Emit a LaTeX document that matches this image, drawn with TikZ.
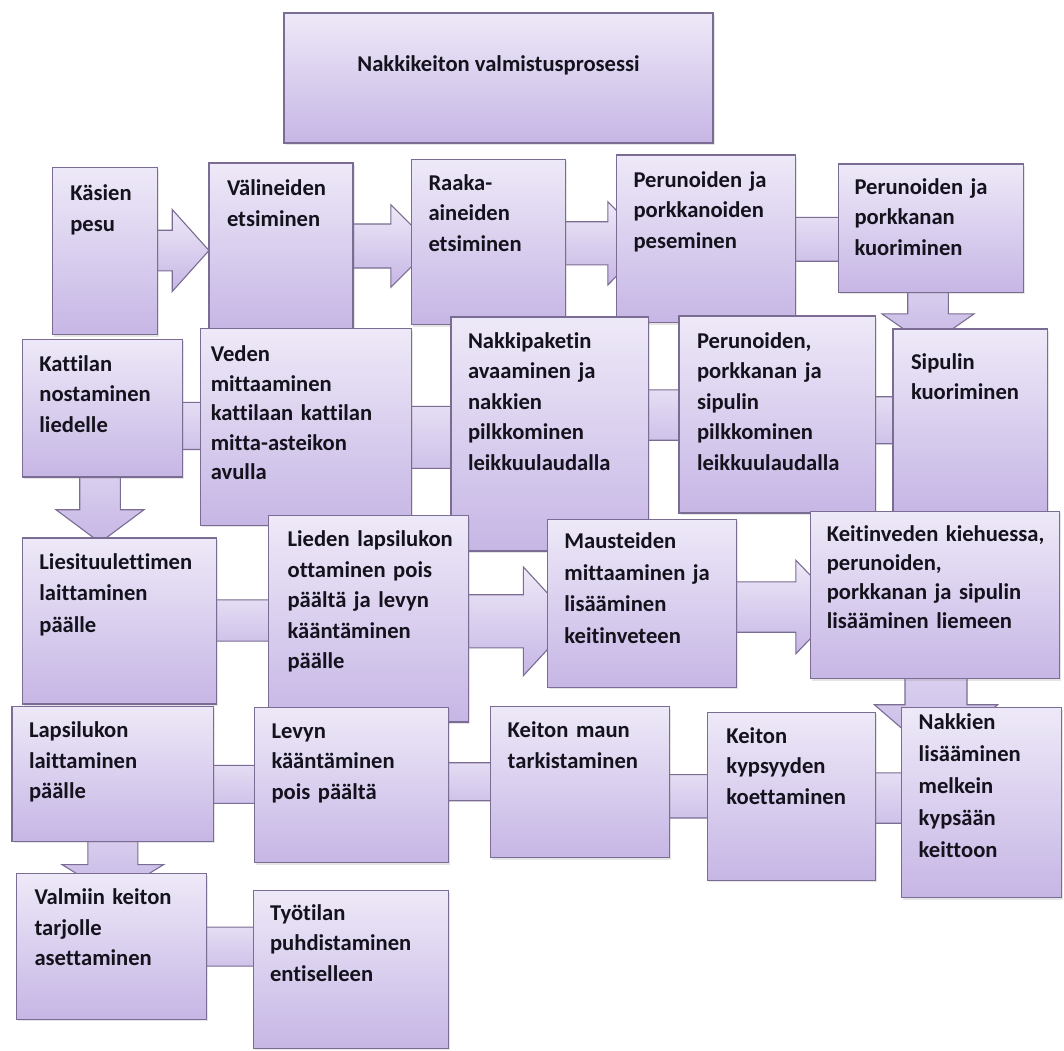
\documentclass[tikz,border=0pt]{standalone}
\usepackage{fontspec}
\setmainfont[Ligatures=NoCommon]{Carlito}
\usetikzlibrary{shadows,calc}
\definecolor{boxtop}{RGB}{238,233,248}
\definecolor{boxbot}{RGB}{198,182,229}
\definecolor{edge}{RGB}{122,108,146}
\definecolor{ink}{RGB}{20,18,28}
\tikzset{
  box/.style={draw=edge, line width=1.1pt, top color=boxtop, bottom color=boxbot,
    inner sep=0pt, outer sep=0pt, anchor=north west,
    drop shadow={shadow xshift=1.5pt, shadow yshift=-2pt, opacity=0.2}},
  barrow/.style={draw=edge, line width=1.1pt, top color=boxtop, bottom color=boxbot, line join=miter},
  txt/.style={inner sep=0pt, outer sep=0pt, anchor=base west, text width=260pt, align=left,
    text=ink, font=\fontsize{22.6}{30.5}\selectfont\bfseries},
}
% box: name, left, top, width, height
\newcommand\bx[5]{\node[box, minimum width=#4pt, minimum height=#5pt] (#1) at (#2,#3) {};}
% right arrow: src, tgt, yc, shaft half, head half, head base offset, tip offset (from tgt.west)
\newcommand\rarr[7]{%
  \pgfmathsetmacro\ya{#3-#4}\pgfmathsetmacro\yb{#3+#4}%
  \pgfmathsetmacro\yc{#3-#5}\pgfmathsetmacro\yd{#3+#5}%
  \draw[barrow] (#1.center |- 0,\ya) -- ($(#2.west |- 0,\ya)+(#6,0)$) -- ($(#2.west |- 0,\yc)+(#6,0)$)
    -- ($(#2.west |- 0,#3)+(#7,0)$) -- ($(#2.west |- 0,\yd)+(#6,0)$) -- ($(#2.west |- 0,\yb)+(#6,0)$)
    -- (#1.center |- 0,\yb) -- cycle;}
% left arrow: offsets from tgt.east
\newcommand\larr[7]{%
  \pgfmathsetmacro\ya{#3-#4}\pgfmathsetmacro\yb{#3+#4}%
  \pgfmathsetmacro\yc{#3-#5}\pgfmathsetmacro\yd{#3+#5}%
  \draw[barrow] (#1.center |- 0,\ya) -- ($(#2.east |- 0,\ya)+(#6,0)$) -- ($(#2.east |- 0,\yc)+(#6,0)$)
    -- ($(#2.east |- 0,#3)+(#7,0)$) -- ($(#2.east |- 0,\yd)+(#6,0)$) -- ($(#2.east |- 0,\yb)+(#6,0)$)
    -- (#1.center |- 0,\yb) -- cycle;}
% down arrow: src, tgt, xc, shaft half, head half, offsets from tgt.north
\newcommand\darr[7]{%
  \pgfmathsetmacro\xa{#3-#4}\pgfmathsetmacro\xb{#3+#4}%
  \pgfmathsetmacro\xc{#3-#5}\pgfmathsetmacro\xd{#3+#5}%
  \draw[barrow] (\xa,0 |- #1.center) -- ($(\xa,0 |- #2.north)+(0,#6)$) -- ($(\xc,0 |- #2.north)+(0,#6)$)
    -- ($(#3,0 |- #2.north)+(0,#7)$) -- ($(\xd,0 |- #2.north)+(0,#6)$) -- ($(\xb,0 |- #2.north)+(0,#6)$)
    -- (\xb,0 |- #1.center) -- cycle;}
\begin{document}
\begin{tikzpicture}[x=1pt,y=-1pt]
\fill[white] (0,0) rectangle (1064,1050);
\useasboundingbox (0,0) rectangle (1064,1050);

% title
\bx{b0}{284}{13}{429}{130}
\node[txt, anchor=base, text width=, align=center] (t0) at ($(b0.north)+(0,58.5)$) {Nakkikeiton valmistusprosessi};

% step boxes (geometry); painted after the connectors
\begin{scope}[every node/.style={inner sep=0pt, outer sep=0pt, anchor=north west}]
\node[minimum width=105.4pt, minimum height=167pt] (b1) at (52.3,167.9) {};
\node[minimum width=144pt, minimum height=166pt] (b2) at (209,163) {};
\node[minimum width=153.6pt, minimum height=165.3pt] (b3) at (411.5,159.3) {};
\node[minimum width=179.4pt, minimum height=167.6pt] (b4) at (616.5,155) {};
\node[minimum width=184.6pt, minimum height=128.4pt] (b5) at (838.5,164) {};
\node[minimum width=154.4pt, minimum height=182.2pt] (b6) at (893,329) {};
\node[minimum width=196.7pt, minimum height=197pt] (b7) at (679,316) {};
\node[minimum width=197.4pt, minimum height=234pt] (b8) at (451,317) {};
\node[minimum width=210.7pt, minimum height=196.3pt] (b9) at (200.8,328.9) {};
\node[minimum width=160.1pt, minimum height=137.7pt] (b10) at (22.4,339.3) {};
\node[minimum width=193.9pt, minimum height=166pt] (b11) at (22.4,538) {};
\node[minimum width=199.7pt, minimum height=206.5pt] (b12) at (268.6,515.5) {};
\node[minimum width=189.1pt, minimum height=168.3pt] (b13) at (547.8,519.1) {};
\node[minimum width=248.8pt, minimum height=167.6pt] (b14) at (810.8,511.1) {};
\node[minimum width=159.6pt, minimum height=190.3pt] (b15) at (901.7,707.5) {};
\node[minimum width=168.3pt, minimum height=168.3pt] (b16) at (707.4,712.1) {};
\node[minimum width=179.2pt, minimum height=151pt] (b17) at (490.7,706.9) {};
\node[minimum width=193.8pt, minimum height=155.4pt] (b18) at (254.5,707.1) {};
\node[minimum width=201.5pt, minimum height=135pt] (b19) at (12,706.2) {};
\node[minimum width=190.1pt, minimum height=145.3pt] (b20) at (16.5,873.8) {};
\node[minimum width=195.2pt, minimum height=158pt] (b21) at (253.1,890.3) {};
\end{scope}

\rarr{b1}{b2}{250.5}{20.3}{41}{-36.8}{0}
\rarr{b2}{b3}{246}{22}{41.4}{-20.7}{20.5}
\rarr{b3}{b4}{243.3}{21.6}{41.7}{-8.7}{32}
\rarr{b4}{b5}{239.3}{21.9}{41}{12}{52}
\darr{b5}{b6}{928}{20.3}{46}{-15.1}{17}
\larr{b6}{b7}{420.2}{23.5}{45}{-14}{-60}
\larr{b7}{b8}{415}{25.2}{45}{-14}{-60}
\larr{b8}{b9}{437.4}{31}{55}{-12}{-65}
\larr{b9}{b10}{425.9}{23.6}{45}{-12}{-57}
\darr{b10}{b11}{100}{20.3}{44}{-28.3}{4.5}
\rarr{b11}{b12}{620.5}{20.6}{41}{12}{52}
\rarr{b12}{b13}{621.3}{26.6}{54.3}{-24.4}{25.6}
\rarr{b13}{b14}{607}{25.2}{46.8}{-15}{30}
\darr{b14}{b15}{936}{31}{61.6}{-2.8}{50.5}
\larr{b15}{b16}{798}{25.2}{45}{-12}{-57}
\larr{b16}{b17}{796.3}{21.7}{41}{-12}{-53}
\larr{b17}{b18}{781.7}{19}{38}{-10}{-48}
\larr{b18}{b19}{784.4}{19}{38}{-10}{-48}
\darr{b19}{b20}{112.8}{25}{50.8}{-9.2}{22}
\rarr{b20}{b21}{946.6}{19.5}{38}{12}{50}

% visible boxes, in flow order
\foreach \n in {b1,b2,b3,b4,b5,b6,b7,b8,b9,b10,b11,b12,b13,b14,b15,b16,b17,b18,b19,b20,b21}{
  \path[box] (\n.north west) rectangle (\n.south east);
}

\node[txt] (t1) at ($(b1.north west)+(18,32.7)$) {Käsien\\pesu};
\node[txt] (t2) at ($(b2.north west)+(18,32.7)$) {Välineiden\\etsiminen};
\node[txt] (t3) at ($(b3.north west)+(17,31)$) {Raaka-\\aineiden\\etsiminen};
\node[txt] (t4) at ($(b4.north west)+(17,32)$) {Perunoiden ja\\porkkanoiden\\peseminen};
\node[txt] (t5) at ($(b5.north west)+(16,30)$) {Perunoiden ja\\porkkanan\\kuoriminen};
\node[txt] (t6) at ($(b6.north west)+(18,40)$) {Sipulin\\kuoriminen};
\node[txt] (t7) at ($(b7.north west)+(18,32)$) {Perunoiden,\\porkkanan ja\\sipulin\\pilkkominen\\leikkuulaudalla};
\node[txt] (t8) at ($(b8.north west)+(17,31)$) {Nakkipaketin\\avaaminen ja\\nakkien\\pilkkominen\\leikkuulaudalla};
\node[txt, font=\fontsize{22.6}{29.5}\selectfont\bfseries] (t9) at ($(b9.north west)+(10,32.8)$) {Veden\\mittaaminen\\kattilaan kattilan\\mitta-asteikon\\avulla};
\node[txt] (t10) at ($(b10.north west)+(17,32)$) {Kattilan\\nostaminen\\liedelle};
\node[txt, font=\fontsize{22.6}{31.5}\selectfont\bfseries] (t11) at ($(b11.north west)+(17,31)$) {Liesituulettimen\\laittaminen\\päälle};
\node[txt] (t12) at ($(b12.north west)+(19,31)$) {Lieden lapsilukon\\ottaminen pois\\päältä ja levyn\\kääntäminen\\päälle};
\node[txt, font=\fontsize{22.6}{31.5}\selectfont\bfseries] (t13) at ($(b13.north west)+(16.6,29.5)$) {Mausteiden\\mittaaminen ja\\lisääminen\\keitinveteen};
\node[txt, font=\fontsize{22.6}{29}\selectfont\bfseries] (t14) at ($(b14.north west)+(16,30.5)$) {Keitinveden kiehuessa,\\perunoiden,\\porkkanan ja sipulin\\lisääminen liemeen};
\node[txt, font=\fontsize{22.6}{32}\selectfont\bfseries] (t15) at ($(b15.north west)+(17,22)$) {Nakkien\\lisääminen\\melkein\\kypsään\\keittoon};
\node[txt] (t16) at ($(b16.north west)+(19,31.3)$) {Keiton\\kypsyyden\\koettaminen};
\node[txt] (t17) at ($(b17.north west)+(17,31)$) {Keiton maun\\tarkistaminen};
\node[txt] (t18) at ($(b18.north west)+(17,31)$) {Levyn\\kääntäminen\\pois päältä};
\node[txt] (t19) at ($(b19.north west)+(17,31.7)$) {Lapsilukon\\laittaminen\\päälle};
\node[txt] (t20) at ($(b20.north west)+(18,31)$) {Valmiin keiton\\tarjolle\\asettaminen};
\node[txt] (t21) at ($(b21.north west)+(17,30)$) {Työtilan\\puhdistaminen\\entiselleen};
\end{tikzpicture}
\end{document}
